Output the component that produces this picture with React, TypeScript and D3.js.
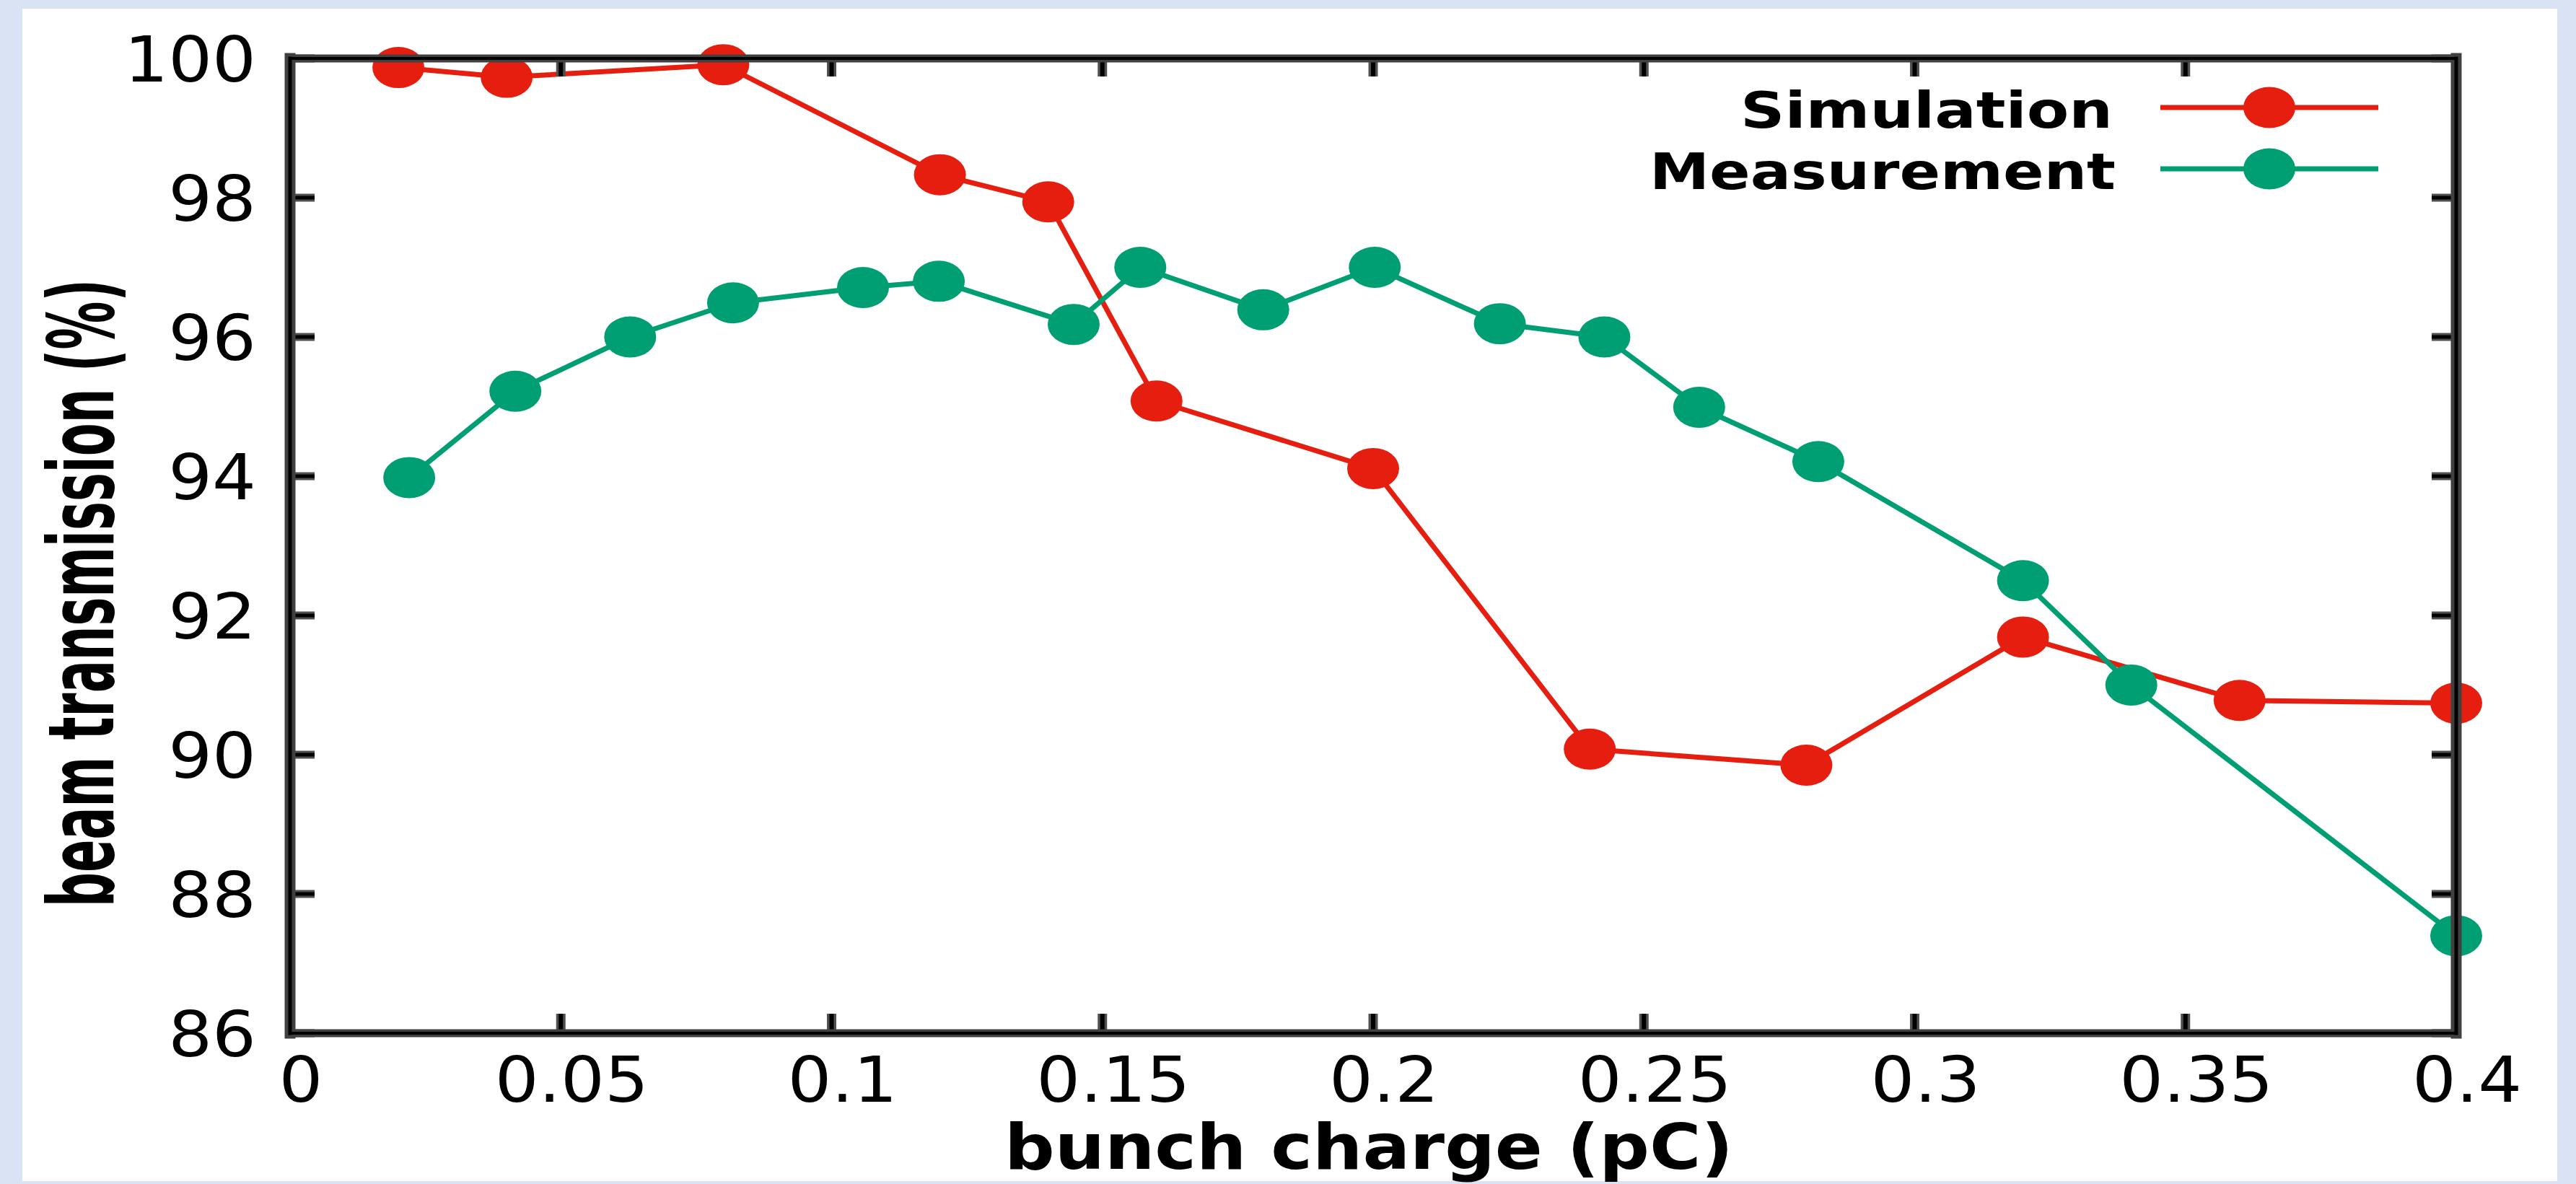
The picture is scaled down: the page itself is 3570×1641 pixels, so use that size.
import React from "react";
import * as d3 from "d3";

const simX = [0.02, 0.04, 0.08, 0.12, 0.14, 0.16, 0.2, 0.24, 0.28, 0.32, 0.36, 0.4];
const simY = [99.87, 99.73, 99.91, 98.33, 97.94, 95.08, 94.11, 90.08, 89.85, 91.69, 90.78, 90.74];
const measX = [0.022, 0.0416, 0.0628, 0.0818, 0.1058, 0.1198, 0.1447, 0.157, 0.1797, 0.2003, 0.2234, 0.2427, 0.2602, 0.2822, 0.32, 0.34, 0.4];
const measY = [93.98, 95.22, 96.0, 96.49, 96.71, 96.8, 96.18, 97.0, 96.39, 97.0, 96.19, 96.0, 94.99, 94.21, 92.5, 91.0, 87.4];
const xTicks = [0, 0.05, 0.1, 0.15, 0.2, 0.25, 0.3, 0.35, 0.4];
const xTickLabels = ["0", "0.05", "0.1", "0.15", "0.2", "0.25", "0.3", "0.35", "0.4"];
const yTicks = [86, 88, 90, 92, 94, 96, 98, 100];
const seriesNames = ["Simulation", "Measurement"];
const seriesColors = ["#e51e10", "#009e73"];

const W = 3570;
const H = 1641;
const L = 402, R = 3404, T = 81, B = 1432;
const FONT = "DejaVu Sans, Verdana, sans-serif";

export default function App() {
  const x = d3.scaleLinear().domain([0, 0.4]).range([L, R]);
  const y = d3.scaleLinear().domain([86, 100]).range([B, T]);
  const line = d3.line<[number, number]>().x((d) => x(d[0])).y((d) => y(d[1]));
  const sim: [number, number][] = simX.map((v, i) => [v, simY[i]]);
  const meas: [number, number][] = measX.map((v, i) => [v, measY[i]]);
  const series = [sim, meas];
  const rx = 36, ry = 28.5;

  const legendY = [149, 234];
  const legendTextX = [2412, 2286];
  const legendTextLen = [516, 646];

  return (
    <svg width={W} height={H} style={{ position: "absolute", left: 0, top: 0, display: "block" }}>
      <rect x={0} y={0} width={W} height={H} fill="#dae3f3" />
      <rect x={31} y={12} width={3544 - 31} height={1637 - 12} fill="#ffffff" />

      {/* y tick labels */}
      {yTicks.map((t) => (
        <text
          key={"yl" + t}
          transform={`translate(355,${y(t) + 31.5}) scale(1.1,1)`}
          textAnchor="end"
          fontFamily={FONT}
          fontSize={87}
          fill="#000"
        >
          {t}
        </text>
      ))}
      {/* x tick labels */}
      {xTicks.map((t, i) => (
        <text
          key={"xl" + i}
          transform={`translate(${x(t) + 15},1527) scale(1.1,1)`}
          textAnchor="middle"
          fontFamily={FONT}
          fontSize={87}
          fill="#000"
        >
          {xTickLabels[i]}
        </text>
      ))}

      {/* axis titles */}
      <text
        x={1392}
        y={1620}
        fontFamily={FONT}
        fontWeight="bold"
        fontSize={88}
        textLength={1010}
        lengthAdjust="spacingAndGlyphs"
        fill="#000"
      >
        bunch charge (pC)
      </text>
      <text
        transform={`translate(157,1257) rotate(-90)`}
        x={0}
        y={0}
        fontFamily={FONT}
        fontWeight="bold"
        fontSize={126}
        textLength={870}
        lengthAdjust="spacingAndGlyphs"
        fill="#000"
      >
        beam transmission (%)
      </text>

      {/* data */}
      {series.map((s, si) => (
        <g key={"s" + si}>
          <path d={line(s) || ""} fill="none" stroke={seriesColors[si]} strokeWidth={7} strokeLinejoin="round" />
          {s.map((d, i) => (
            <ellipse key={i} cx={x(d[0])} cy={y(d[1])} rx={rx} ry={ry} fill={seriesColors[si]} />
          ))}
        </g>
      ))}

      {/* legend */}
      {seriesNames.map((n, i) => (
        <g key={"lg" + i}>
          <text
            x={legendTextX[i]}
            y={legendY[i] + 28}
            fontFamily={FONT}
            fontWeight="bold"
            fontSize={70}
            textLength={legendTextLen[i]}
            lengthAdjust="spacingAndGlyphs"
            fill="#000"
          >
            {n}
          </text>
          <line x1={2994} x2={3296} y1={legendY[i]} y2={legendY[i]} stroke={seriesColors[i]} strokeWidth={7} />
          <ellipse cx={3145} cy={legendY[i]} rx={rx} ry={ry} fill={seriesColors[i]} />
        </g>
      ))}

      {/* ticks */}
      <g>
        {yTicks.map((t) => (
          <g key={"yt" + t}>
            <line x1={L} x2={L + 34} y1={y(t)} y2={y(t)} stroke="#505050" strokeWidth={11} />
            <line x1={L} x2={L + 34} y1={y(t)} y2={y(t)} stroke="#000" strokeWidth={5} />
            <line x1={R} x2={R - 34} y1={y(t)} y2={y(t)} stroke="#505050" strokeWidth={11} />
            <line x1={R} x2={R - 34} y1={y(t)} y2={y(t)} stroke="#000" strokeWidth={5} />
          </g>
        ))}
        {xTicks.map((t, i) => (
          <g key={"xt" + i}>
            <line x1={x(t)} x2={x(t)} y1={B} y2={B - 27} stroke="#505050" strokeWidth={13} />
            <line x1={x(t)} x2={x(t)} y1={B} y2={B - 27} stroke="#000" strokeWidth={6} />
            <line x1={x(t)} x2={x(t)} y1={T} y2={T + 25} stroke="#505050" strokeWidth={13} />
            <line x1={x(t)} x2={x(t)} y1={T} y2={T + 25} stroke="#000" strokeWidth={6} />
          </g>
        ))}
      </g>

      {/* frame */}
      <g strokeLinecap="square">
        <line x1={L} x2={R} y1={T} y2={T} stroke="#404040" strokeWidth={11} />
        <line x1={L} x2={R} y1={B} y2={B} stroke="#404040" strokeWidth={11} />
        <line x1={L} x2={L} y1={T} y2={B} stroke="#404040" strokeWidth={15} />
        <line x1={R} x2={R} y1={T} y2={B} stroke="#404040" strokeWidth={15} />
        <line x1={L} x2={R} y1={T} y2={T} stroke="#000" strokeWidth={4} />
        <line x1={L} x2={R} y1={B} y2={B} stroke="#000" strokeWidth={4} />
        <line x1={L} x2={L} y1={T} y2={B} stroke="#000" strokeWidth={5} />
        <line x1={R} x2={R} y1={T} y2={B} stroke="#000" strokeWidth={5} />
      </g>
    </svg>
  );
}
